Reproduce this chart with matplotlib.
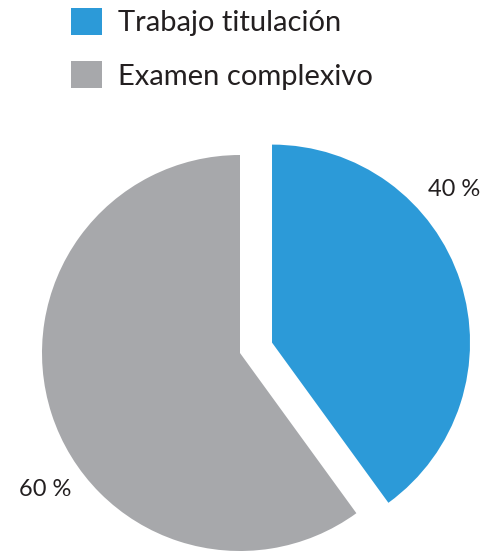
import numpy as np
import matplotlib.pyplot as plt

labels = ['Trabajo titulación', 'Examen complexivo']
values = [40, 60]
pct_text = ['40 %', '60 %']
colors = ['#2c9ad8', '#a7a8ab']

plt.rcParams['font.family'] = ['Lato', 'DejaVu Sans']

fig = plt.figure(figsize=(4.9, 5.51), dpi=100)
ax = fig.add_axes([0, 0, 1, 1])

wedges, _ = ax.pie(values, colors=colors, startangle=90, counterclock=False,
                   explode=[0.17, 0], radius=1, center=(0, 0))

# label positions: angle (deg) and distance measured from each wedge centre
label_angle = [40, 215]
label_dist = 1.2
for w, t, a in zip(wedges, pct_text, label_angle):
    cx, cy = w.center
    r = w.r * label_dist
    ax.text(cx + r * np.cos(np.radians(a)), cy + r * np.sin(np.radians(a)), t,
            ha='center', va='center', fontsize=17, color='#231f20')

ax.set_xlim(-240 / 198, 250 / 198)
ax.set_ylim(-198 / 198, 353 / 198)
ax.axis('off')

fig.legend(wedges, labels, loc='upper left', bbox_to_anchor=(71 / 490, 1 - 8 / 551),
           frameon=False, handlelength=1.05, handleheight=1.05, borderpad=0,
           borderaxespad=0, labelspacing=0.85, handletextpad=0.55,
           labelcolor='#231f20', prop={'size': 21})

fig.savefig('out.png', dpi=100)
